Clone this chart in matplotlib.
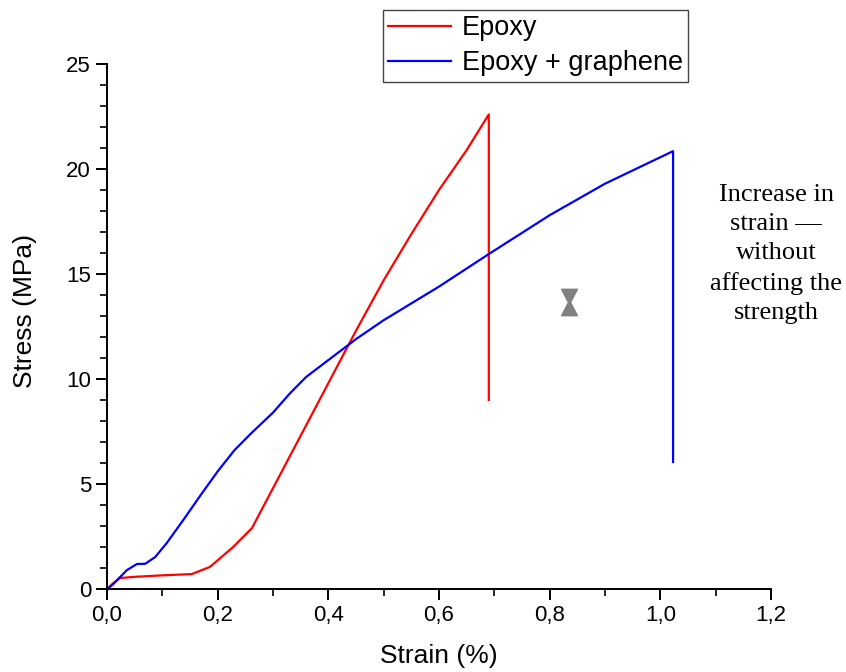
import matplotlib
matplotlib.use("Agg")
import matplotlib.pyplot as plt
from matplotlib.path import Path
from matplotlib.ticker import MultipleLocator, FuncFormatter

# Epoxy (red)
epoxy_strain = [0.0, 0.01, 0.023, 0.05, 0.10, 0.153, 0.186, 0.228, 0.262, 0.30, 0.35,
                0.40, 0.45, 0.50, 0.55, 0.60, 0.65, 0.69, 0.69]
epoxy_stress = [0.0, 0.25, 0.52, 0.58, 0.65, 0.71, 1.05, 2.0, 2.9, 4.8, 7.3,
                9.8, 12.3, 14.7, 16.9, 19.0, 20.9, 22.6, 9.0]

# Epoxy + graphene (blue)
graph_strain = [0.0, 0.01, 0.036, 0.054, 0.069, 0.087, 0.108, 0.138, 0.17, 0.20,
                0.23, 0.26, 0.30, 0.33, 0.36, 0.40, 0.45, 0.50, 0.55, 0.60,
                0.69, 0.80, 0.90, 1.023, 1.023]
graph_stress = [0.0, 0.2, 0.9, 1.19, 1.2, 1.52, 2.19, 3.29, 4.5, 5.6,
                6.6, 7.4, 8.4, 9.3, 10.1, 10.9, 11.9, 12.8, 13.6, 14.4,
                15.95, 17.8, 19.3, 20.85, 6.05]

marker_xy = (0.835, 13.67)
note = "Increase in\nstrain \u2014\nwithout\naffecting the\nstrength"

sans = ["Liberation Sans", "DejaVu Sans"]

fig = plt.figure(figsize=(8.46, 6.72), dpi=100)
ax = fig.add_axes([107 / 846, 1 - 589 / 672, (771 - 107) / 846, (589 - 64) / 672])

l1, = ax.plot(epoxy_strain, epoxy_stress, color="#ff0000", lw=1.6, label="Epoxy")
l2, = ax.plot(graph_strain, graph_stress, color="#0000ff", lw=1.6, label="Epoxy + graphene")

hourglass = Path([(-0.6, 1), (0.6, 1), (0.08, 0), (0.6, -1), (-0.6, -1), (-0.08, 0), (-0.6, 1)],
                 [Path.MOVETO] + [Path.LINETO] * 5 + [Path.CLOSEPOLY])
ax.plot([marker_xy[0]], [marker_xy[1]], marker=hourglass, ms=19, color="#808080", ls="none")

ax.set_xlim(0, 1.2)
ax.set_ylim(0, 25)
for s in ("top", "right"):
    ax.spines[s].set_visible(False)
for s in ("left", "bottom"):
    ax.spines[s].set_linewidth(1.4)

ax.xaxis.set_major_locator(MultipleLocator(0.2))
ax.xaxis.set_minor_locator(MultipleLocator(0.1))
ax.yaxis.set_major_locator(MultipleLocator(5))
ax.yaxis.set_minor_locator(MultipleLocator(1))
ax.xaxis.set_major_formatter(FuncFormatter(lambda v, p: f"{v:.1f}".replace(".", ",")))
ax.tick_params(which="major", direction="out", length=8, width=1.4, labelsize=16)
ax.tick_params(which="minor", direction="out", length=5, width=1.2)
for lab in ax.get_xticklabels() + ax.get_yticklabels():
    lab.set_family(sans)

ax.set_xlabel("Strain (%)", fontsize=19, family=sans, labelpad=13)
ax.set_ylabel("Stress (MPa)", fontsize=19, family=sans)
ax.yaxis.set_label_coords(-0.105, 0.53)

fig.legend(handles=[l1, l2], loc="upper left", bbox_to_anchor=(383 / 846, 1 - 10 / 672),
           prop={"family": sans, "size": 19.5},
           fancybox=False, edgecolor="#444444", framealpha=1, borderaxespad=0,
           borderpad=0.2, handlelength=2.3, handletextpad=0.4, labelspacing=0.32)

fig.text(776 / 846, 1 - 254 / 672, note, ha="center", va="center", multialignment="center",
         fontsize=19, family=["Liberation Serif", "DejaVu Serif"], linespacing=1.43)

fig.savefig("out.png", dpi=100)
